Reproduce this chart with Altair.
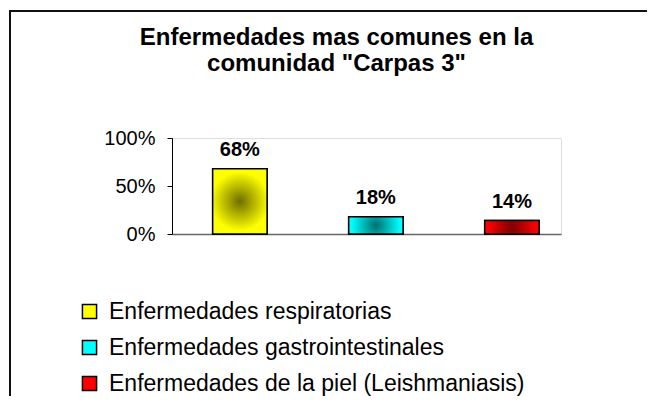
import altair as alt
import pandas as pd

categories = [
    "Enfermedades respiratorias",
    "Enfermedades gastrointestinales",
    "Enfermedades de la piel (Leishmaniasis)",
]
values = [0.68, 0.18, 0.14]
edge_colors = ["#FFFF00", "#00FFFF", "#FF0000"]
center_colors = ["#6E6E00", "#007070", "#7A0000"]
title_lines = ["Enfermedades mas comunes en la", 'comunidad "Carpas 3"']

df = pd.DataFrame({"cat": categories, "val": values})

FONT = "Liberation Sans"

xenc = alt.X(
    "cat:N",
    sort=categories,
    scale=alt.Scale(paddingInner=0.6, paddingOuter=0.23, align=0.65),
    axis=alt.Axis(labels=False, ticks=False, title=None, domainColor="#666666", domainWidth=1.5),
)
yenc = alt.Y(
    "val:Q",
    scale=alt.Scale(domain=[0, 1]),
    axis=alt.Axis(
        values=[0, 0.5, 1],
        format=".0%",
        title=None,
        grid=False,
        tickSize=5,
        tickColor="black",
        domainColor="black",
        labelFont=FONT,
        labelFontSize=20,
        labelColor="black",
        labelPadding=12,
    ),
)

base = alt.Chart(df).mark_bar(stroke="black", strokeWidth=1.5).encode(
    x=xenc,
    y=yenc,
    color=alt.Color(
        "cat:N",
        sort=categories,
        scale=alt.Scale(domain=categories, range=edge_colors),
        legend=alt.Legend(
            title=None,
            orient="none",
            legendX=-94,
            legendY=162,
            symbolType="square",
            symbolSize=200,
            symbolStrokeColor="black",
            symbolStrokeWidth=1.5,
            symbolOpacity=1,
            labelFont=FONT,
            labelFontSize=23,
            labelColor="black",
            labelOffset=8,
            rowPadding=12,
            labelLimit=600,
        ),
    ),
)

layers = [base]
for cat, edge, center in zip(categories, edge_colors, center_colors):
    grad = alt.Gradient(
        gradient="radial",
        stops=[
            alt.GradientStop(color=center, offset=0),
            alt.GradientStop(color=edge, offset=0.75),
            alt.GradientStop(color=edge, offset=1),
        ],
        x1=0.5, y1=0.5, r1=0, x2=0.5, y2=0.5, r2=0.6,
    )
    layers.append(
        alt.Chart(df)
        .transform_filter(alt.datum.cat == cat)
        .mark_bar(color=grad, stroke="black", strokeWidth=1.5)
        .encode(x=xenc, y=yenc)
    )

text = alt.Chart(df).mark_text(
    font=FONT, fontSize=20, fontWeight="bold", color="black", dy=-13, baseline="alphabetic"
).encode(
    x=alt.X("cat:N", sort=categories),
    y="val:Q",
    text=alt.Text("val:Q", format=".0%"),
)
layers.append(text)

frame = alt.Chart(pd.DataFrame({"a": [0]})).mark_rect(
    fill="transparent", stroke="#111111", strokeWidth=2
).encode(
    x=alt.value(-162), x2=alt.value(700), y=alt.value(-127), y2=alt.value(500)
)
layers.append(frame)

chart = alt.layer(*layers).properties(
    width=389,
    height=96,
    title=alt.TitleParams(
        text=title_lines,
        font=FONT,
        fontSize=24,
        fontWeight="bold",
        color="black",
        anchor="middle",
        lineHeight=26,
        dx=-30,
        dy=70,
    ),
    autosize=alt.AutoSizeParams(type="none"),
    padding={"left": 164, "top": 130, "right": 86, "bottom": 162},
).configure_view(stroke=None).configure(background="white")

chart.save("out.html", embed_options={"renderer": "svg", "actions": False})
